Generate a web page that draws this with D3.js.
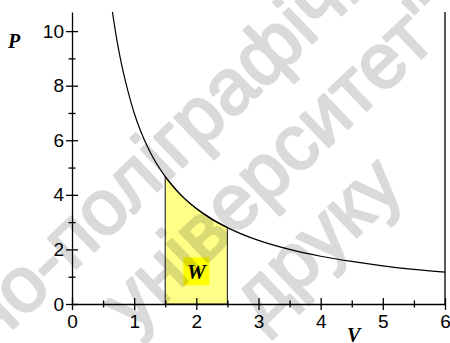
<!DOCTYPE html>
<html>
<head>
<meta charset="utf-8">
<script src="https://cdn.jsdelivr.net/npm/d3@7"></script>
<style>
  body { margin: 0; background: #fff; }
  svg { display: block; }
  .tick text { font-family: 'Liberation Sans', Arial, sans-serif; font-size: 19px; fill: #000; }
  .ttl { font-family: 'Liberation Serif', 'Times New Roman', serif; font-weight: bold; font-style: italic; font-size: 20px; }
  .wm { font-family: 'Liberation Sans', Arial, sans-serif; fill: #000; stroke: #000; stroke-width: 2.6; stroke-linejoin: round; }
</style>
</head>
<body>
<svg width="450" height="343"></svg>
<script>
// P = f(V)
const volume = [0.65, 0.72, 0.8, 0.9, 1, 1.1, 1.25, 1.5, 1.75, 2, 2.25, 2.5, 3, 3.5, 4, 4.5, 5, 5.5, 6];
const pressure = [10.7, 9.7, 8.75, 7.8, 7, 6.36, 5.6, 4.67, 4, 3.5, 3.11, 2.8, 2.33, 2, 1.75, 1.56, 1.4, 1.27, 1.17];

// work region (shaded) between V1 and V2
const workV = [1.5, 2.5];
const workLabel = { text: 'W', v: 2.0, p: 1.2 };

const xMajor = [0, 1, 2, 3, 4, 5, 6];
const xMinor = [0.5, 1.5, 2.5, 3.5, 4.5, 5.5];
const yMajor = [0, 2, 4, 6, 8, 10];
const yMinor = [1, 3, 5, 7, 9];

// водяной знак: текст + две буквы, по которым он ложится на картинку
const watermark = ['Видавничо-поліграфічний', 'університет"', 'друку'];
const wmRef = [
  { i: 10, j: 17, pi: [65, 240], pj: [280, 57] },
  { i: 3, j: 10, pi: [208, 233], pj: [407, 45] },
  { i: 0, j: 3, pi: [262, 305], pj: [353, 207] },
];

const svg = d3.select('svg');

const x = d3.scaleLinear().domain([0, 6]).range([72, 445]);
const y = d3.scaleLinear().domain([0, 10.7]).range([304, 12]);

const pts = volume.map((v, i) => [v, pressure[i]]);

// закрашена область W
const workPts = pts.filter((d) => d[0] >= workV[0] && d[0] <= workV[1]);
svg
  .append('path')
  .datum(workPts)
  .attr(
    'd',
    d3
      .area()
      .x((d) => x(d[0]))
      .y0(y(0))
      .y1((d) => y(d[1]))
      .curve(d3.curveMonotoneX)
  )
  .style('fill', '#ffff88')
  .style('stroke', '#333')
  .style('stroke-width', 1.2);

// подпись W
const lg = svg
  .append('g')
  .attr('transform', `translate(${x(workLabel.v)},${y(workLabel.p)})`);
lg.append('rect')
  .attr('x', -13)
  .attr('y', -14)
  .attr('width', 26)
  .attr('height', 28)
  .style('fill', '#ffff00');
lg.append('text')
  .attr('class', 'ttl')
  .attr('text-anchor', 'middle')
  .attr('dy', '0.35em')
  .style('font-size', '21px')
  .text(workLabel.text);

// гипербола
svg
  .append('path')
  .datum(pts)
  .attr(
    'd',
    d3
      .line()
      .x((d) => x(d[0]))
      .y((d) => y(d[1]))
      .curve(d3.curveMonotoneX)
  )
  .style('fill', 'none')
  .style('stroke', '#000')
  .style('stroke-width', 1.2);

// оси
const xAxis = svg.append('g').attr('transform', `translate(0,${y(0)})`);
xAxis.call(d3.axisBottom(x).tickValues(xMajor).tickSize(6).tickSizeOuter(0).tickFormat(d3.format('d')));
xAxis.selectAll('.tick line').attr('y1', -6).attr('y2', 6);
xAxis.selectAll('.tick text').attr('y', 11);

const xAxisMinor = svg.append('g').attr('transform', `translate(0,${y(0)})`);
xAxisMinor.call(d3.axisBottom(x).tickValues(xMinor).tickSize(3).tickFormat(''));
xAxisMinor.select('.domain').remove();
xAxisMinor.selectAll('.tick line').attr('y1', -3.5).attr('y2', 3.5);

const yAxis = svg.append('g').attr('transform', `translate(${x(0)},0)`);
yAxis.call(d3.axisLeft(y).tickValues(yMajor).tickSize(6).tickSizeOuter(0).tickFormat(d3.format('d')));
yAxis.selectAll('.tick line').attr('x1', -6).attr('x2', 6);
yAxis.selectAll('.tick text').attr('x', -8);

const yAxisMinor = svg.append('g').attr('transform', `translate(${x(0)},0)`);
yAxisMinor.call(d3.axisLeft(y).tickValues(yMinor).tickSize(3).tickFormat(''));
yAxisMinor.select('.domain').remove();
yAxisMinor.selectAll('.tick line').attr('x1', -3.5).attr('x2', 3.5);

svg.selectAll('.domain, .tick line').style('stroke', '#000').style('stroke-width', 1.3);

// правая рамка
svg
  .append('line')
  .attr('x1', x(6))
  .attr('x2', x(6))
  .attr('y1', y(0))
  .attr('y2', y.range()[1])
  .style('stroke', '#000')
  .style('stroke-width', 1.3);

// подписи осей
svg.append('text').attr('class', 'ttl').attr('x', 8).attr('y', 48).text('P');
svg.append('text').attr('class', 'ttl').attr('x', 347).attr('y', 342).text('V');

// водяной знак — общий угол и размер, подогнанные по опорным буквам
const wm = svg.append('g').style('pointer-events', 'none').style('opacity', 0.14);
const F0 = 80;
const midX = (el, i) => {
  const e = el.node().getExtentOfChar(i);
  return e.x + e.width / 2;
};
const wmEls = watermark.map((t) =>
  wm.append('text').attr('class', 'wm').style('font-size', F0 + 'px').text(t)
);
let ks = [], angs = [];
wmEls.forEach((el, n) => {
  const r = wmRef[n];
  const du = midX(el, r.j) - midX(el, r.i);
  const dx = r.pj[0] - r.pi[0], dy = r.pj[1] - r.pi[1];
  ks.push(Math.hypot(dx, dy) / du);
  angs.push(Math.atan2(dy, dx));
});
const k = d3.mean(ks.slice(0, 2));
const ang = d3.mean(angs);
const F = F0 * k;
wmEls.forEach((el, n) => {
  const r = wmRef[n];
  el.style('font-size', F + 'px');
  const u = (midX(el, r.i) + midX(el, r.j)) / 2;
  const v = -0.26 * F;
  const px = (r.pi[0] + r.pj[0]) / 2, py = (r.pi[1] + r.pj[1]) / 2;
  const tx = px - (u * Math.cos(ang) - v * Math.sin(ang));
  const ty = py - (u * Math.sin(ang) + v * Math.cos(ang));
  el.attr('transform', `translate(${tx},${ty}) rotate(${(ang * 180) / Math.PI})`);
});
</script>
</body>
</html>
